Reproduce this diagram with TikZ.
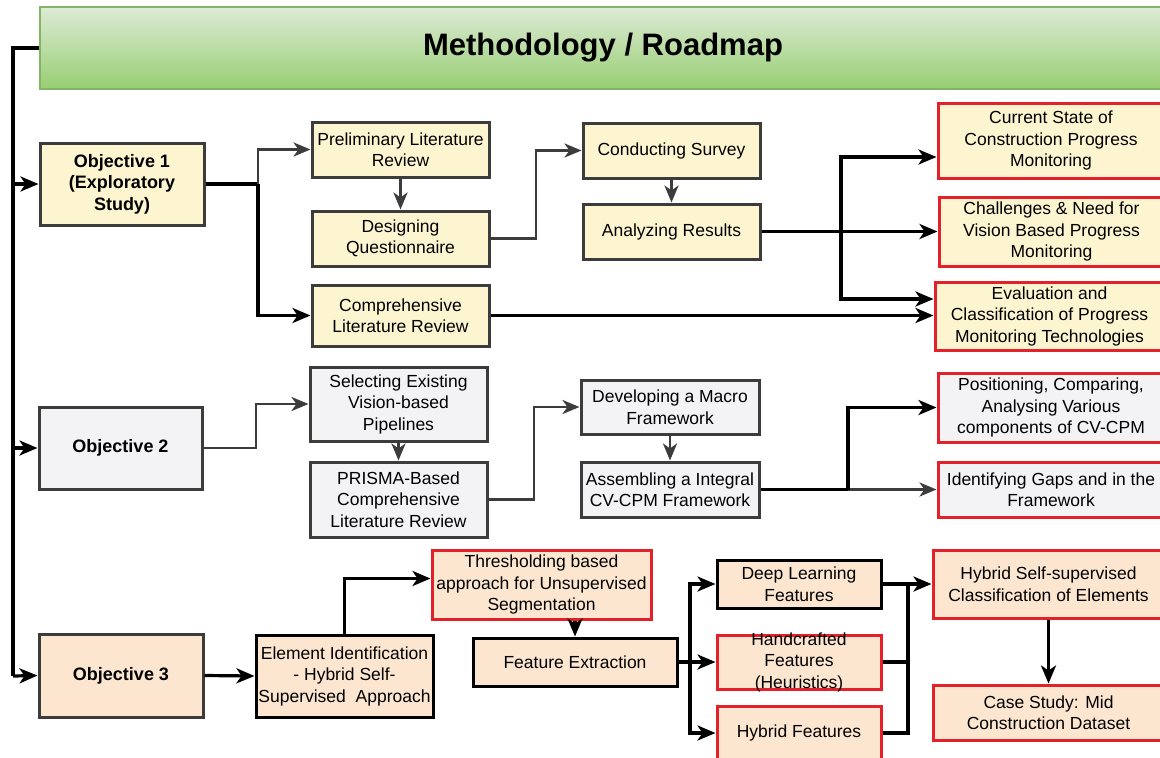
\documentclass[tikz,border=0pt]{standalone}
\usepackage{fontspec}
\setmainfont{Liberation Sans}
\usetikzlibrary{arrows.meta,calc}
\definecolor{yfill}{HTML}{FDF5D0}
\definecolor{gfill}{HTML}{F3F3F5}
\definecolor{ofill}{HTML}{FCE6D0}
\definecolor{redb}{HTML}{E3212B}
\definecolor{grayb}{HTML}{3C3C3C}
\definecolor{hdtop}{HTML}{DDEBD6}
\definecolor{hdbot}{HTML}{97CE72}
\definecolor{hdline}{HTML}{82B366}
\tikzset{
  base/.style={draw, line width=3pt, inner sep=0pt, align=center,
    font=\fontsize{17.5}{21.5}\selectfont},
  ybox/.style={base, draw=grayb, fill=yfill},
  gbox/.style={base, draw=grayb, fill=gfill},
  obox/.style={base, draw=black, fill=ofill},
  yred/.style={base, draw=redb, fill=yfill},
  gred/.style={base, draw=redb, fill=gfill},
  ored/.style={base, draw=redb, fill=ofill},
  bold/.style={font=\fontsize{18}{21.5}\selectfont\bfseries},
  kl/.style={draw=black, line width=3.2pt},
  gl/.style={draw=grayb, line width=2.9pt},
  ka/.style={kl, -{Stealth[length=18pt,width=15pt,inset=5pt]}},
  ga/.style={gl, -{Stealth[length=17pt,width=14pt,inset=5pt]}},
}
\begin{document}
\begin{tikzpicture}[x=1pt,y=-1pt]
\clip (0,0) rectangle (1160,758);
\fill[white] (0,0) rectangle (1160,758);
% header
\node[draw=hdline, line width=2pt, top color=hdtop, bottom color=hdbot,
  minimum width=1126pt, minimum height=82pt, inner sep=0pt,
  font=\fontsize{31}{36}\selectfont\bfseries] (head) at (603,48) {\raisebox{-3pt}{Methodology / Roadmap}};
% objectives
\node[ybox,bold,minimum width=164pt,minimum height=82pt] (obj1) at (122,184) {Objective 1\\(Exploratory\\Study)};
\node[gbox,bold,minimum width=163pt,minimum height=82pt] (obj2) at (120.5,448) {Objective 2};
\node[obox,draw=grayb,bold,minimum width=164pt,minimum height=83pt] (obj3) at (121,675.5) {Objective 3};
% objective 1
\node[ybox,minimum width=177pt,minimum height=55pt] (prelim) at (400.5,149.5) {Preliminary Literature\\Review};
\node[ybox,minimum width=177pt,minimum height=55pt] (design) at (400.5,238.5) {Designing\\Questionnaire};
\node[ybox,minimum width=177pt,minimum height=61pt] (comp) at (400.5,315.5) {Comprehensive\\Literature Review};
\node[ybox,minimum width=177pt,minimum height=55pt] (cond) at (671.5,150.5) {Conducting Survey};
\node[ybox,minimum width=177pt,minimum height=55pt] (anal) at (671.5,231.5) {Analyzing Results};
\node[yred,minimum width=226pt,minimum height=75pt] (cur) at (1051,140.5) {Current State of\\Construction Progress\\Monitoring};
\node[yred,minimum width=225pt,minimum height=69pt] (chal) at (1051.5,231.5) {Challenges \& Need for\\Vision Based Progress\\Monitoring};
\node[yred,minimum width=229pt,minimum height=68pt] (eval) at (1049.5,316) {Evaluation and\\Classification of Progress\\Monitoring Technologies};
% objective 2
\node[gbox,minimum width=177pt,minimum height=74pt] (sel) at (398.5,404) {Selecting Existing\\Vision-based\\Pipelines};
\node[gbox,minimum width=177pt,minimum height=75pt] (prisma) at (398.5,499.5) {PRISMA-Based\\Comprehensive\\Literature Review};
\node[gbox,minimum width=178pt,minimum height=54pt] (dev) at (670,407) {Developing a Macro\\Framework};
\node[gbox,minimum width=178pt,minimum height=55pt] (asm) at (670,489.5) {Assembling a Integral\\CV-CPM Framework};
\node[gred,minimum width=226pt,minimum height=69pt] (pos) at (1051,407.5) {Positioning, Comparing,\\Analysing Various\\components of CV-CPM};
\node[gred,minimum width=226pt,minimum height=55pt] (ident) at (1051,489.5) {Identifying Gaps and in the\\Framework};
% objective 3
\node[obox,minimum width=177pt,minimum height=82pt] (elem) at (344.5,676) {Element Identification\\- Hybrid Self-\\Supervised\ \ Approach};
\node[ored,minimum width=219pt,minimum height=69pt] (thr) at (541.5,584.5) {Thresholding based\\approach for Unsupervised\\Segmentation};
\node[obox,minimum width=204pt,minimum height=48pt] (feat) at (575,662) {Feature Extraction};
\node[obox,minimum width=164pt,minimum height=48pt] (dl) at (799,584) {Deep Learning\\Features};
\node[ored,minimum width=164pt,minimum height=54pt] (hand) at (799,662) {};
\node[align=center,inner sep=0pt,font=\fontsize{17.5}{21.5}\selectfont] (handtxt) at (hand.center) {Handcrafted\\Features\\(Heuristics)};
\node[ored,minimum width=164pt,minimum height=54pt] (hyb) at (799,733) {Hybrid Features};
\node[ored,minimum width=231pt,minimum height=68pt] (hss) at (1048.5,584) {Hybrid Self-supervised\\Classification of Elements};
\node[ored,minimum width=231pt,minimum height=55pt] (case) at (1048.5,712.5) {Case Study: Mid\\Construction Dataset};
% left spine
\coordinate (L0) at (13,48);
\coordinate (L3) at (13,676);
\draw[kl] (head.west) -- (L0) -- (L3);
\draw[ka] (L0 |- obj1.west) -- (obj1.west);
\draw[ka] (L0 |- obj2.west) -- (obj2.west);
\draw[ka] (L3) -- (obj3.west);
% objective 1 connectors
\coordinate (b1) at (258,184);
\draw[kl] (obj1.east) -- (b1);
\draw[ga] (b1) |- (prelim.west);
\draw[ka] (b1) |- (comp.west);
\draw[ga] (prelim.south) -- (design.north);
\coordinate (b2) at (536,238.5);
\draw[ga] (design.east) -- (b2) |- (cond.west);
\draw[ga] (cond.south) -- (anal.north);
\coordinate (b3) at (841,231.5);
\draw[ka] (anal.east) -- (chal.west);
\draw[ka] (b3) |- ($(cur.west)+(0,16.5)$);
\draw[ka] (b3) |- ($(eval.west)+(0,-17)$);
\draw[ka] (comp.east) -- (comp.east -| eval.west);
% objective 2 connectors
\coordinate (b4) at (256,448);
\draw[ga] (obj2.east) -- (b4) |- (sel.west);
\draw[ga] (sel.south) -- (prisma.north);
\coordinate (b5) at (534,499.5);
\draw[ga] (prisma.east) -- (b5) |- (dev.west);
\draw[ga] (dev.south) -- (asm.north);
\coordinate (b6) at (848,489.5);
\draw[ga] (asm.east) -- (ident.west);
\draw[kl] (asm.east) -- (b6);
\draw[ka] (b6) |- (pos.west);
% objective 3 connectors
\draw[ka] (obj3.east) -- (elem.west);
\draw[ka] (elem.north) |- ($(thr.west)+(0,-6)$);
\draw[ka] (thr.south -| feat.north) -- (feat.north);
\coordinate (b7) at (690,662);
\draw[ka] (feat.east) -- (hand.west);
\draw[ka] (b7) |- (dl.west);
\draw[ka] (b7) |- (hyb.west);
\coordinate (b8) at (908,662);
\coordinate (b8t) at (908,584);
\draw[kl] (hand.east) -- (b8);
\draw[kl] (hyb.east) -| (b8t);
\draw[ka] (dl.east) -- (hss.west);
\draw[ka] (hss.south) -- (case.north);
\end{tikzpicture}
\end{document}
